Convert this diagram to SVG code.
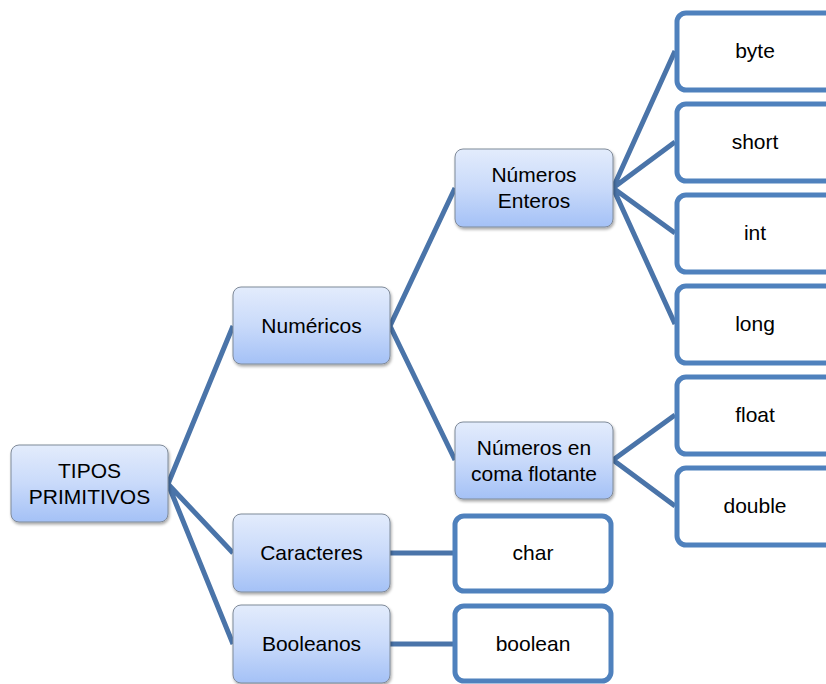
<svg xmlns="http://www.w3.org/2000/svg" width="826" height="684" viewBox="0 0 826 684">
<defs>
<linearGradient id="g" x1="0" y1="0" x2="0" y2="1">
<stop offset="0" stop-color="#e3ecfc"/>
<stop offset="0.5" stop-color="#c9dafa"/>
<stop offset="1" stop-color="#a4c1f6"/>
</linearGradient>
<filter id="sh" x="-10%" y="-10%" width="125%" height="130%">
<feGaussianBlur in="SourceAlpha" stdDeviation="1.5"/>
<feOffset dx="1" dy="2" result="b"/>
<feComponentTransfer><feFuncA type="linear" slope="0.35"/></feComponentTransfer>
<feMerge><feMergeNode/><feMergeNode in="SourceGraphic"/></feMerge>
</filter>
</defs>
<style>
.n{fill:url(#g);stroke:#7f8a99;stroke-width:1;filter:url(#sh)}
.l{fill:#fff;stroke:#4f81bd;stroke-width:5}
.c{stroke:#4a74a9;stroke-width:5;fill:none;stroke-linecap:butt}
text{font-family:"Liberation Sans","Noto Sans",sans-serif;font-size:21px;fill:#000;text-anchor:middle}
</style>
<rect width="826" height="684" fill="#fff"/>
<g id="connectors">
<path class="c" d="M168 484 L233 326 M168 484 L233 553 M168 484 L233 644"/>
<path class="c" d="M390 326 L455 188 M390 326 L455 460"/>
<path class="c" d="M613 188 L675 51 M613 188 L675 142 M613 188 L675 233 M613 188 L675 324"/>
<path class="c" d="M613 460 L675 415 M613 460 L675 506"/>
<path class="c" d="M390 553 L453 553 M390 644 L453 644"/>
</g>
<g id="tipos"><rect class="n" x="11" y="445" width="157" height="77" rx="8"/><text x="89.5" y="478">TIPOS</text><text x="89.5" y="504">PRIMITIVOS</text></g>
<g id="numericos"><rect class="n" x="233" y="287" width="157" height="77" rx="8"/><text x="311.5" y="333">Numéricos</text></g>
<g id="caracteres"><rect class="n" x="233" y="514" width="157" height="78" rx="8"/><text x="311.5" y="560">Caracteres</text></g>
<g id="booleanos"><rect class="n" x="233" y="605" width="157" height="78" rx="8"/><text x="311.5" y="651">Booleanos</text></g>
<g id="enteros"><rect class="n" x="455" y="149" width="158" height="78" rx="8"/><text x="534" y="182">Números</text><text x="534" y="208">Enteros</text></g>
<g id="flotante"><rect class="n" x="455" y="422" width="158" height="77" rx="8"/><text x="534" y="455">Números en</text><text x="534" y="481">coma flotante</text></g>
<g id="char"><rect class="l" x="455" y="516" width="156" height="75" rx="9"/><text x="533" y="560">char</text></g>
<g id="boolean"><rect class="l" x="455" y="606" width="156" height="75" rx="9"/><text x="533" y="651">boolean</text></g>
<g id="byte"><rect class="l" x="677" y="13" width="160" height="77" rx="9"/><text x="755" y="58">byte</text></g>
<g id="short"><rect class="l" x="677" y="104" width="160" height="77" rx="9"/><text x="755" y="149">short</text></g>
<g id="int"><rect class="l" x="677" y="195" width="160" height="77" rx="9"/><text x="755" y="240">int</text></g>
<g id="long"><rect class="l" x="677" y="286" width="160" height="77" rx="9"/><text x="755" y="331">long</text></g>
<g id="float"><rect class="l" x="677" y="377" width="160" height="77" rx="9"/><text x="755" y="422">float</text></g>
<g id="double"><rect class="l" x="677" y="468" width="160" height="77" rx="9"/><text x="755" y="513">double</text></g>
</svg>
